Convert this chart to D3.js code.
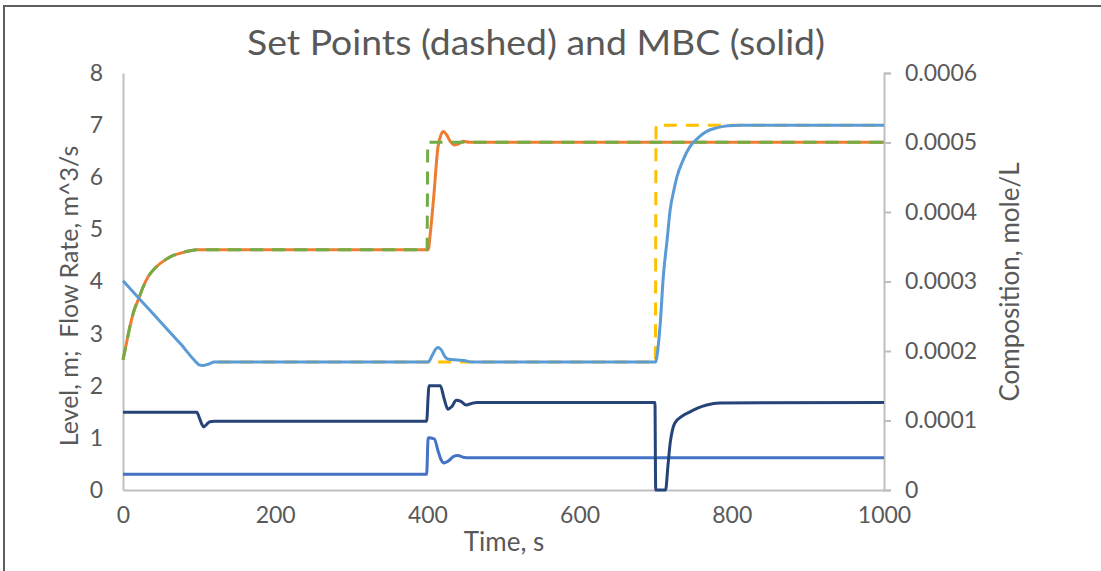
<!DOCTYPE html>
<html><head><meta charset="utf-8">
<script src="https://cdn.jsdelivr.net/npm/d3@7"></script>
<style>body{margin:0;background:#fff}svg{display:block}text{font-family:Lato,"Open Sans",sans-serif;fill:#595959}</style>
</head><body><svg id="c" width="1101" height="571"></svg>
<script>
// ---- data ----
const xTicks = [0, 200, 400, 600, 800, 1000];
const yLeftTicks = [0, 1, 2, 3, 4, 5, 6, 7, 8];
const yRightTicks = [0, 0.0001, 0.0002, 0.0003, 0.0004, 0.0005, 0.0006];

// Flow set point (green dashed, left axis)
const spFlowT = [0, 5, 9, 14, 20, 26, 33, 43, 55, 66, 77, 88, 97, 399.5, 400.5, 1000];
const spFlowV = [2.5, 2.85, 3.13, 3.42, 3.65, 3.88, 4.09, 4.27, 4.41, 4.5, 4.55, 4.59, 4.61, 4.61, 6.67, 6.67];
// Flow MBC (orange solid, left axis)
const mbcFlowT = [0, 5, 9, 14, 20, 26, 33, 43, 55, 66, 77, 88, 97, 401, 404, 408, 414, 418, 421, 425, 430, 436, 441, 447, 455, 1000];
const mbcFlowV = [2.5, 2.85, 3.13, 3.42, 3.65, 3.88, 4.09, 4.27, 4.41, 4.5, 4.55, 4.59, 4.61, 4.61, 4.95, 5.57, 6.59, 6.82, 6.88, 6.82, 6.69, 6.62, 6.64, 6.69, 6.67, 6.67];
// Composition set point (yellow dashed, right axis)
const spCompT = [125, 699.5, 700.5, 1000];
const spCompV = [0.000184, 0.000184, 0.000525, 0.000525];
// Composition MBC (light blue solid, right axis)
const mbcCompT = [0, 25, 50, 75, 97, 100, 105, 112, 120, 401, 406, 411, 414, 418, 423, 428, 440, 450, 458, 700, 702, 706, 710, 715, 719, 724, 728, 735, 745, 755, 767, 780, 795, 811, 1000];
const mbcCompV = [0.000301, 0.000271, 0.000241, 0.000211, 0.000183, 0.00018, 0.000179, 0.000181, 0.000184, 0.000184, 0.000193, 0.000203, 0.000205, 0.000202, 0.000192, 0.000188, 0.000187, 0.000186, 0.000184, 0.000184, 0.000195, 0.00024, 0.000307, 0.00036, 0.000403, 0.000432, 0.000451, 0.000472, 0.000494, 0.000506, 0.000516, 0.000521, 0.000524, 0.000525, 0.000525];
// Level MBC (navy solid, left axis)
const levelT = [0, 97, 100, 104, 106, 110, 114, 120, 399, 401, 402, 417, 422, 427, 432, 438, 444, 451, 458, 465, 699, 700, 713, 716, 719, 722, 725, 735, 745, 755, 767, 784, 1000];
const levelV = [1.49, 1.49, 1.4, 1.25, 1.21, 1.26, 1.31, 1.32, 1.32, 1.8, 2.0, 2.0, 1.75, 1.55, 1.6, 1.72, 1.7, 1.63, 1.66, 1.68, 1.68, 0, 0, 0.45, 0.9, 1.15, 1.28, 1.42, 1.5, 1.57, 1.63, 1.67, 1.68];
// Flow 2 MBC (blue solid, left axis)
const flow2T = [0, 399, 401, 409, 414, 418, 422, 428, 434, 440, 447, 455, 1000];
const flow2V = [0.3, 0.3, 1.0, 0.98, 0.75, 0.58, 0.52, 0.56, 0.64, 0.66, 0.63, 0.62, 0.62];

// ---- chart ----
const svg = d3.select("#c");
svg.append("rect").attr("x", 4).attr("y", 6).attr("width", 1200).attr("height", 700)
  .attr("fill", "#fff").attr("stroke", "#5f5f5f").attr("stroke-width", 2);

const L = 123, R = 884, T = 73, B = 490;
const x = d3.scaleLinear().domain([0, 1000]).range([L, R]);
const yL = d3.scaleLinear().domain([0, 8]).range([B, T]);
const yR = d3.scaleLinear().domain([0, 0.0006]).range([B, T]);

const axisColor = "#bfbfbf";
const gx = svg.append("g").attr("transform", `translate(0,${B})`)
  .call(d3.axisBottom(x).tickValues(xTicks).tickSize(0).tickPadding(17).tickFormat(d3.format("d")));
const gl = svg.append("g").attr("transform", `translate(${L},0)`)
  .call(d3.axisLeft(yL).tickValues(yLeftTicks).tickSize(0).tickPadding(20).tickFormat(d3.format("d")));
const gr = svg.append("g").attr("transform", `translate(${R},0)`)
  .call(d3.axisRight(yR).tickValues(yRightTicks).tickSize(7).tickPadding(14)
    .tickFormat(d => d === 0 ? "0" : d.toFixed(4)));
[gx, gl, gr].forEach(g => {
  g.select(".domain").attr("stroke", axisColor).attr("stroke-width", 2);
  g.selectAll(".tick line").attr("stroke", axisColor).attr("stroke-width", 2);
  g.selectAll(".tick text").style("font-size", "23px").style("fill", "#595959").attr("font-family", "Lato");
});

function draw(ts, vs, ys, color, dash) {
  const pts = ts.map((t, i) => [t, vs[i]]);
  const line = d3.line().x(d => x(d[0])).y(d => ys(d[1])).curve(d3.curveMonotoneX);
  const p = svg.append("path").datum(pts).attr("d", line).attr("fill", "none")
    .attr("stroke", color).attr("stroke-width", 3).attr("stroke-linejoin", "round");
  if (dash) p.attr("stroke-dasharray", dash);
}
draw(flow2T, flow2V, yL, "#4472C4");
draw(levelT, levelV, yL, "#264478");
draw(mbcFlowT, mbcFlowV, yL, "#ED7D31");
draw(spFlowT, spFlowV, yL, "#70AD47", "13,9");
draw(spCompT, spCompV, yR, "#FFC000", "13,9");
draw(mbcCompT, mbcCompV, yR, "#5B9BD5");

svg.append("text").attr("x", 247).attr("y", 55)
  .attr("textLength", 578).attr("lengthAdjust", "spacingAndGlyphs")
  .style("font-size", "34px").text("Set Points (dashed) and MBC (solid)");
svg.append("text").attr("x", 504).attr("y", 551).attr("text-anchor", "middle")
  .style("font-size", "26px").text("Time, s");
svg.append("text").attr("transform", "translate(78,296) rotate(-90)").attr("text-anchor", "middle")
  .style("font-size", "25px").style("white-space", "pre").text("Level, m;\u00a0 Flow Rate, m^3/s");
svg.append("text").attr("transform", "translate(1019,282) rotate(-90)").attr("text-anchor", "middle")
  .style("font-size", "26px").text("Composition, mole/L");
</script></body></html>
